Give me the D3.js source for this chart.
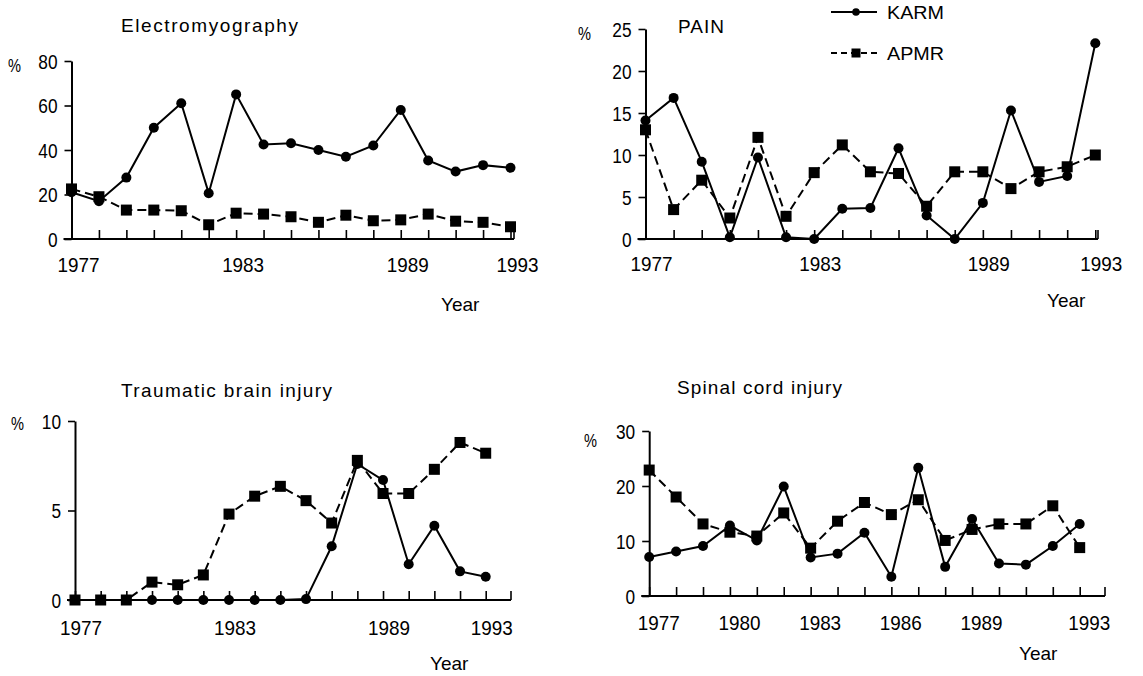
<!DOCTYPE html>
<html>
<head>
<meta charset="utf-8">
<script src="https://cdn.jsdelivr.net/npm/d3@7/dist/d3.min.js"></script>
<style>
  html, body { margin: 0; padding: 0; background: #fff; }
  svg { display: block; }
  text { font-family: "Liberation Sans", Arial, sans-serif; fill: #000; }
</style>
</head>
<body>
<svg id="chart" width="1143" height="676"></svg>
<script>
// ---------------- DATA ----------------
const years = [1977, 1978, 1979, 1980, 1981, 1982, 1983, 1984, 1985, 1986, 1987, 1988, 1989, 1990, 1991, 1992, 1993];
const seriesNames = ["KARM", "APMR"];

const emgKARM = [21, 17, 27.6, 50, 61, 20.6, 65, 42.5, 43, 40, 37, 42, 58, 35.3, 30.3, 33.2, 32];
const emgAPMR = [22.5, 19, 13, 13, 12.7, 6.4, 11.6, 11.2, 10, 7.5, 10.7, 8.2, 8.6, 11.2, 8, 7.5, 5.5];

const painKARM = [14.1, 16.8, 9.2, 0.2, 9.7, 0.2, 0, 3.6, 3.7, 10.8, 2.8, 0, 4.3, 15.3, 6.8, 7.5, 23.3];
const painAPMR = [13, 3.5, 7, 2.5, 12.1, 2.7, 7.9, 11.2, 8, 7.8, 3.9, 8, 8, 6, 8, 8.6, 10];

const tbiKARM = [0, 0, 0, 0, 0, 0, 0, 0, 0, 0.05, 3.0, 7.6, 6.7, 2.0, 4.15, 1.6, 1.3];
const tbiAPMR = [0, 0, 0, 1.0, 0.85, 1.4, 4.8, 5.8, 6.35, 5.55, 4.3, 7.8, 5.95, 5.95, 7.3, 8.8, 8.2];

const sciKARM = [7.1, 8.1, 9.1, 12.8, 10.1, 19.9, 7, 7.7, 11.5, 3.5, 23.3, 5.3, 14, 5.9, 5.7, 9.1, 13.1];
const sciAPMR = [22.9, 18, 13.1, 11.6, 10.9, 15.1, 8.7, 13.6, 17, 14.8, 17.5, 10.1, 12.1, 13.1, 13.1, 16.4, 8.8];

const emgYTicks = [0, 20, 40, 60, 80];
const painYTicks = [0, 5, 10, 15, 20, 25];
const tbiYTicks = [0, 5, 10];
const sciYTicks = [0, 10, 20, 30];

const xLabelsA = [1977, 1983, 1989, 1993];
const xLabelsB = [1977, 1980, 1983, 1986, 1989, 1993];

const titles = ["Electromyography", "PAIN", "Traumatic brain injury", "Spinal cord injury"];

// ---------------- LAYOUT ----------------
const panels = [
  { title: titles[0], titleW: 177, karm: emgKARM, apmr: emgAPMR, yTicks: emgYTicks, xLabels: xLabelsA,
    x0: 71.5, x1: 510.5, axisEnd: 514, y0: 239, y1: 61, xlabOff: 7,
    titleX: 121, titleY: 32, pctX: 8, pctY: 72, yearX: 441, yearY: 311, xlabY: 272 },
  { title: titles[1], titleW: 46, karm: painKARM, apmr: painAPMR, yTicks: painYTicks, xLabels: xLabelsA,
    x0: 645.5, x1: 1095.3, axisEnd: 1098, y0: 239, y1: 29, xlabOff: 6,
    titleX: 678, titleY: 33, pctX: 578, pctY: 40, yearX: 1047, yearY: 307, xlabY: 271 },
  { title: titles[2], titleW: 211, karm: tbiKARM, apmr: tbiAPMR, yTicks: tbiYTicks, xLabels: xLabelsA,
    x0: 75, x1: 485.7, axisEnd: 511, y0: 600, y1: 421, xlabOff: 6,
    titleX: 121, titleY: 397, pctX: 11, pctY: 430, yearX: 430, yearY: 670, xlabY: 635 },
  { title: titles[3], titleW: 165, karm: sciKARM, apmr: sciAPMR, yTicks: sciYTicks, xLabels: xLabelsB,
    x0: 649.2, x1: 1079.7, axisEnd: 1105, y0: 596, y1: 431, xlabOff: 9.5,
    titleX: 677, titleY: 394, pctX: 584, pctY: 447, yearX: 1019, yearY: 660, xlabY: 630 }
];

const svg = d3.select("#chart");

panels.forEach(p => {
  const yMax = p.yTicks[p.yTicks.length - 1];
  const x = d3.scaleLinear().domain([years[0], years[years.length - 1]]).range([p.x0, p.x1]);
  const y = d3.scaleLinear().domain([0, yMax]).range([p.y0, p.y1]);
  const g = svg.append("g");

  const xAxis = d3.axisBottom(x).tickValues(years).tickSizeInner(-9).tickSizeOuter(0).tickFormat("");
  const gx = g.append("g").attr("transform", `translate(0,${p.y0})`).call(xAxis);
  gx.select(".domain").remove();
  gx.selectAll("line").attr("stroke", "#000").attr("stroke-width", 1.6);
  g.append("line").attr("x1", p.x0 - 8).attr("x2", p.axisEnd).attr("y1", p.y0).attr("y2", p.y0)
    .attr("stroke", "#000").attr("stroke-width", 2);
  g.append("line").attr("x1", p.axisEnd).attr("x2", p.axisEnd).attr("y1", p.y0).attr("y2", p.y0 - 9)
    .attr("stroke", "#000").attr("stroke-width", 1.6);

  g.selectAll(".xl").data(p.xLabels).enter().append("text")
    .attr("x", d => x(d) + p.xlabOff).attr("y", p.xlabY)
    .attr("text-anchor", "middle").attr("font-size", 21)
    .attr("textLength", 42).attr("lengthAdjust", "spacingAndGlyphs")
    .text(d => d);

  const yAxis = d3.axisLeft(y).tickValues(p.yTicks).tickSizeInner(7).tickSizeOuter(0).tickPadding(7);
  const gy = g.append("g").attr("transform", `translate(${p.x0},0)`).call(yAxis);
  gy.select(".domain").attr("stroke", "#000").attr("stroke-width", 2);
  gy.selectAll("line").attr("stroke", "#000").attr("stroke-width", 1.6);
  gy.selectAll("text").attr("font-size", 20).attr("font-family", "Liberation Sans, Arial, sans-serif")
    .attr("fill", "#000").attr("dy", "0.36em")
    .attr("textLength", d => String(d).length * 9.6).attr("lengthAdjust", "spacingAndGlyphs");

  g.append("text").attr("x", p.titleX).attr("y", p.titleY).attr("font-size", 19)
    .attr("textLength", p.titleW).attr("lengthAdjust", "spacing").text(p.title);
  g.append("text").attr("x", p.pctX).attr("y", p.pctY).attr("font-size", 19)
    .attr("textLength", 13).attr("lengthAdjust", "spacingAndGlyphs").text("%");
  g.append("text").attr("x", p.yearX).attr("y", p.yearY).attr("font-size", 19).text("Year");

  const line = d3.line().x((d, i) => x(years[i])).y(d => y(d));

  g.append("path").datum(p.apmr).attr("d", line).attr("fill", "none")
    .attr("stroke", "#000").attr("stroke-width", 2).attr("stroke-dasharray", "9,5");
  g.selectAll(".sq").data(p.apmr).enter().append("rect")
    .attr("x", (d, i) => x(years[i]) - 5.5).attr("y", d => y(d) - 5.5)
    .attr("width", 11).attr("height", 11).attr("fill", "#000");

  g.append("path").datum(p.karm).attr("d", line).attr("fill", "none")
    .attr("stroke", "#000").attr("stroke-width", 2);
  g.selectAll(".ci").data(p.karm).enter().append("circle")
    .attr("cx", (d, i) => x(years[i])).attr("cy", d => y(d)).attr("r", 5).attr("fill", "#000");
});

const leg = svg.append("g");
const legItems = [
  { name: seriesNames[0], y: 12, dash: null, shape: "circle" },
  { name: seriesNames[1], y: 53, dash: "6,4", shape: "square" }
];
legItems.forEach(it => {
  leg.append("line").attr("x1", 831).attr("x2", 877).attr("y1", it.y).attr("y2", it.y)
    .attr("stroke", "#000").attr("stroke-width", 1.8).attr("stroke-dasharray", it.dash);
  if (it.shape === "circle") {
    leg.append("circle").attr("cx", 856).attr("cy", it.y).attr("r", 3.8).attr("fill", "#000");
  } else {
    leg.append("rect").attr("x", 851.5).attr("y", it.y - 4.5).attr("width", 9).attr("height", 9).attr("fill", "#000");
  }
  leg.append("text").attr("x", 887).attr("y", it.y + 7).attr("font-size", 19)
    .attr("textLength", 57).attr("lengthAdjust", "spacingAndGlyphs").text(it.name);
});
</script>
</body>
</html>
